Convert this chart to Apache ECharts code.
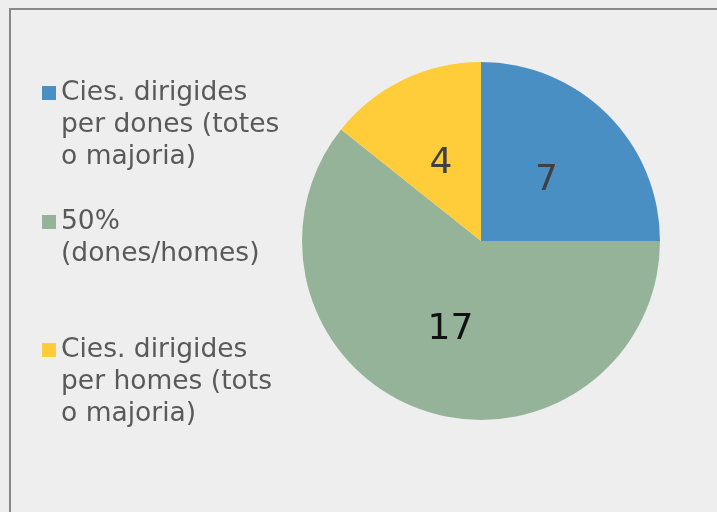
<!DOCTYPE html>
<html>
<head>
<meta charset="utf-8">
<script src="https://cdn.jsdelivr.net/npm/echarts@6/dist/echarts.min.js"></script>
<style>
html,body{margin:0;padding:0;background:#eeeeee;}
#c{width:717px;height:512px;}
</style>
</head>
<body>
<div id="c"></div>
<script>
const categories = ['Cies. dirigides per dones (totes o majoria)', '50% (dones/homes)', 'Cies. dirigides per homes (tots o majoria)'];
const values = [7, 17, 4];
const legendLines = [
  ['Cies. dirigides', 'per dones (totes', 'o majoria)'],
  ['50%', '(dones/homes)'],
  ['Cies. dirigides', 'per homes (tots', 'o majoria)']
];
const colors = ['#4a8fc3', '#95b398', '#ffcd3a'];
const labelColors = ['#404040', '#111111', '#404040'];
const labelOffsets = [[0, 5], [0, 1], [0, 6]];

const FONT = "'DejaVu Sans', Verdana, sans-serif";
const LH = 32;
const iconTops = [86, 215, 343];

const legends = categories.map((name, i) => {
  const n = legendLines[i].length;
  // prepend empty lines so the first text line is centred on the marker
  const text = new Array(n - 1).fill('').concat(legendLines[i]).join('\n');
  const boxH = (2 * n - 1) * LH;
  return {
    show: true,
    orient: 'vertical',
    left: 42,
    top: iconTops[i] + 7 - boxH / 2,
    padding: 0,
    itemWidth: 14,
    itemHeight: 14,
    icon: 'rect',
    selectedMode: false,
    data: [name],
    formatter: () => text,
    textStyle: {
      fontFamily: FONT,
      fontSize: 26.5,
      lineHeight: LH,
      color: '#595959'
    }
  };
});

const chart = echarts.init(document.getElementById('c'));
chart.setOption({
  backgroundColor: '#eeeeee',
  animation: false,
  color: colors,
  legend: legends,
  graphic: [{
    type: 'rect',
    shape: { x: 10, y: 9, width: 800, height: 600 },
    style: { fill: 'none', stroke: '#888888', lineWidth: 2 },
    silent: true
  }],
  series: [{
    type: 'pie',
    center: [481, 241],
    radius: 179,
    startAngle: 90,
    clockwise: true,
    avoidLabelOverlap: false,
    itemStyle: { borderWidth: 0 },
    emphasis: { disabled: true },
    label: {
      show: true,
      position: 'inside',
      fontFamily: FONT,
      fontSize: 36,
      formatter: '{c}'
    },
    labelLine: { show: false },
    data: categories.map((n, i) => ({
      name: n,
      value: values[i],
      label: { color: labelColors[i], offset: labelOffsets[i] }
    }))
  }]
});
</script>
</body>
</html>
